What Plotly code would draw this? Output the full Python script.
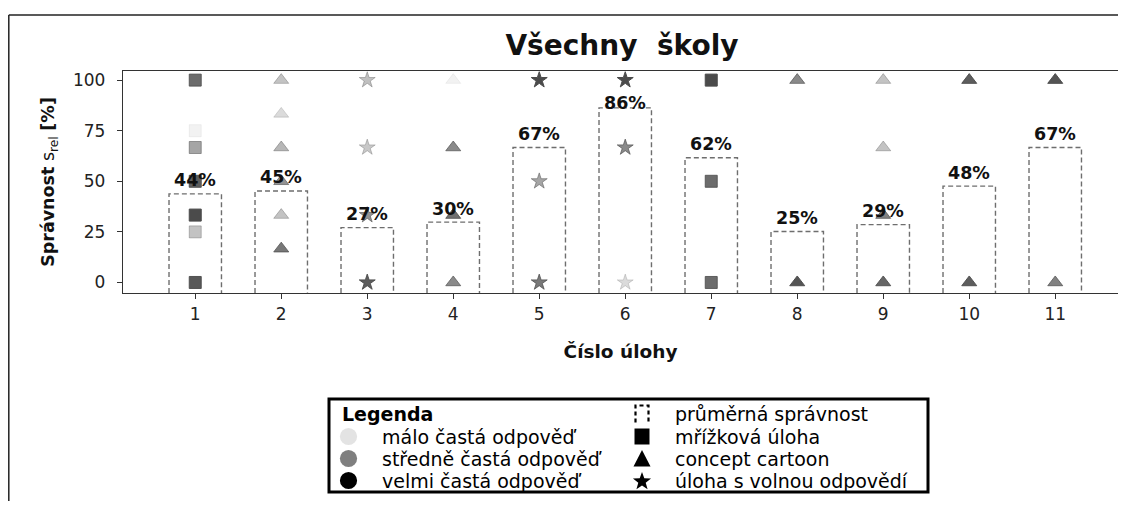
import math
import plotly.graph_objects as go

# ---------------- data ----------------
tasks = [1, 2, 3, 4, 5, 6, 7, 8, 9, 10, 11]
task_type = ["grid", "cartoon", "free", "cartoon", "free", "free",
             "grid", "cartoon", "cartoon", "cartoon", "cartoon"]
mean_correct = [43.8, 45.2, 27.1, 29.8, 66.7, 86.3, 61.6, 25.2, 28.6, 47.6, 66.7]

answer_task = [1, 1, 1, 1, 1, 1, 1,
               2, 2, 2, 2, 2, 2,
               3, 3, 3, 3,
               4, 4, 4, 4,
               5, 5, 5,
               6, 6, 6,
               7, 7, 7,
               8, 8,
               9, 9, 9, 9,
               10, 10,
               11, 11]
answer_value = [100, 75, 66.7, 50, 33.3, 25, 0,
                100, 83.3, 66.7, 50, 33.3, 16.7,
                100, 66.7, 33.3, 0,
                100, 66.7, 33.3, 0,
                100, 50, 0,
                100, 66.7, 0,
                100, 50, 0,
                100, 0,
                100, 66.7, 33.3, 0,
                100, 0,
                100, 0]
answer_freq = [0.82, 0.07, 0.5, 0.9, 1.0, 0.33, 0.93,
               0.33, 0.2, 0.4, 0.6, 0.33, 0.75,
               0.35, 0.3, 0.6, 0.9,
               0.07, 0.65, 0.8, 0.65,
               1.0, 0.5, 0.75,
               1.0, 0.65, 0.2,
               1.0, 0.82, 0.82,
               0.65, 0.95,
               0.33, 0.33, 0.7, 0.85,
               0.9, 0.9,
               0.95, 0.7]

y_ticks = [0, 25, 50, 75, 100]

freq_legend = ["málo častá odpověď", "středně častá odpověď", "velmi častá odpověď"]
type_legend = ["průměrná správnost", "mřížková úloha", "concept cartoon",
               "úloha s volnou odpovědí"]

# ---------------- style ----------------
FONT = "DejaVu Sans"
OFF = 8                       # page body margin in the browser
W, H = 1126 - 2 * OFF, 509 - 2 * OFF
L_S, T_S, B_S = 123, 71, 293  # plot-area edges in screen pixels
ML, MT = L_S - OFF, T_S - OFF
MB = H - (B_S - OFF)
MR = 0
PW, PH = W - ML - MR, H - MT - MB
X_RANGE = [0.16, 0.16 + PW / 86.0]
Y_RANGE = [-5.2, 104.5]
BAR_W = 0.61
LABEL_OFFSET = 6.7
LABEL_CAP = 88.5
symbol_of = {"grid": "square", "cartoon": "triangle-up", "free": "star"}
size_of = {"grid": 12, "cartoon": 13, "free": 12}


def px(x):  # screen x -> paper
    return (x - OFF - ML) / PW


def py(y):  # screen y -> paper
    return (MT + PH - (y - OFF)) / PH


fig = go.Figure()

# mean-correctness bars (dashed outlines)
bx, by = [], []
for t, m in zip(tasks, mean_correct):
    bx += [t - BAR_W / 2, t - BAR_W / 2, t + BAR_W / 2, t + BAR_W / 2, None]
    by += [Y_RANGE[0], m, m, Y_RANGE[0], None]
fig.add_trace(go.Scatter(x=bx, y=by, mode="lines",
                         line=dict(color="#6e6e6e", width=1.4, dash="5px,3px"),
                         hoverinfo="skip", showlegend=False))

# answers
kinds = [task_type[tasks.index(t)] for t in answer_task]
cols = [f"rgba(0,0,0,{a})" for a in answer_freq]
fig.add_trace(go.Scatter(
    x=answer_task, y=answer_value, mode="markers", showlegend=False,
    marker=dict(symbol=[symbol_of[k] for k in kinds],
                size=[size_of[k] for k in kinds],
                color=cols, line=dict(color=cols, width=1))))

annotations = []
for t, m in zip(tasks, mean_correct):
    annotations.append(dict(x=t, y=min(m + LABEL_OFFSET, LABEL_CAP), xref="x", yref="y",
                            text=f"<b>{round(m)}%</b>", showarrow=False,
                            yanchor="middle", xanchor="center",
                            font=dict(family=FONT, size=17.5, color="#111")))

# ---------------- frame + legend (manual) ----------------
shapes = []
# outer figure frame (top and left edges; the rest lies outside the picture)
shapes.append(dict(type="line", xref="paper", yref="paper",
                   x0=px(8.8), x1=px(1200), y0=py(15), y1=py(15),
                   line=dict(color="#222", width=1.5), layer="below"))
shapes.append(dict(type="line", xref="paper", yref="paper",
                   x0=px(8.8), x1=px(8.8), y0=py(15), y1=py(600),
                   line=dict(color="#222", width=1.5), layer="below"))
# legend box
shapes.append(dict(type="rect", xref="paper", yref="paper",
                   x0=px(329), x1=px(928), y0=py(492), y1=py(399),
                   line=dict(color="#000", width=3), fillcolor="white"))


def poly(points):
    return "M " + " L ".join(f"{px(x)},{py(y)}" for x, y in points) + " Z"


row_y = [414, 436.5, 458.5, 480.5]
LX, RX = 348.5, 642
# frequency circles
for c, yy in zip(["#e3e3e3", "#7f7f7f", "#000000"], row_y[1:]):
    r = 8.6
    shapes.append(dict(type="circle", xref="paper", yref="paper",
                       x0=px(LX - r), x1=px(LX + r), y0=py(yy + r), y1=py(yy - r),
                       fillcolor=c, line=dict(width=0)))
# dashed bar symbol
yy = row_y[0]
x0, x1, y0, y1 = px(RX - 6.5), px(RX + 6.5), py(yy + 8.5), py(yy - 8.5)
shapes.append(dict(type="path", xref="paper", yref="paper",
                   path=f"M {x0},{y0} L {x0},{y1} L {x1},{y1} L {x1},{y0}",
                   line=dict(color="#000", width=2.2, dash="4px,3px")))
# square
yy = row_y[1]
shapes.append(dict(type="rect", xref="paper", yref="paper",
                   x0=px(RX - 7.5), x1=px(RX + 7.5), y0=py(yy + 8), y1=py(yy - 8),
                   fillcolor="#000", line=dict(width=0)))
# triangle
yy = row_y[2]
shapes.append(dict(type="path", xref="paper", yref="paper",
                   path=poly([(RX - 8.5, yy + 8), (RX + 8.5, yy + 8), (RX, yy - 8.5)]),
                   fillcolor="#000", line=dict(width=0)))
# star
yy = row_y[3]
pts = []
for k in range(10):
    rad = 9.5 if k % 2 == 0 else 3.9
    ang = -math.pi / 2 + k * math.pi / 5
    pts.append((RX + rad * math.cos(ang), yy + 1 + rad * math.sin(ang)))
shapes.append(dict(type="path", xref="paper", yref="paper", path=poly(pts),
                   fillcolor="#000", line=dict(width=0)))

annotations.append(dict(x=px(340), y=py(row_y[0]), xref="paper", yref="paper",
                        text="<b>Legenda</b>", showarrow=False, xanchor="left",
                        yanchor="middle", font=dict(family=FONT, size=19, color="#000")))
for txt, yy in zip(freq_legend, row_y[1:]):
    annotations.append(dict(x=px(380), y=py(yy), xref="paper", yref="paper",
                            text=txt, showarrow=False, xanchor="left",
                            yanchor="middle", font=dict(family=FONT, size=19, color="#000")))
for txt, yy in zip(type_legend, row_y):
    annotations.append(dict(x=px(673), y=py(yy), xref="paper", yref="paper",
                            text=txt, showarrow=False, xanchor="left",
                            yanchor="middle", font=dict(family=FONT, size=19, color="#000")))

fig.update_layout(
    width=W, height=H, autosize=False,
    margin=dict(l=ML, r=MR, t=MT, b=MB, pad=0),
    paper_bgcolor="white", plot_bgcolor="white",
    font=dict(family=FONT, color="#222"),
    title=dict(text="<b>Všechny\u00a0 školy</b>", x=(622 - OFF) / W, xref="container",
               y=1 - (45 - OFF) / H, yref="container", xanchor="center", yanchor="middle",
               font=dict(family=FONT, size=28, color="#111")),
    xaxis=dict(range=X_RANGE, tickvals=tasks, ticktext=[str(t) for t in tasks],
               showgrid=False, zeroline=False, showline=True, mirror=True,
               linecolor="#333", linewidth=1.3, ticks="outside", ticklen=5,
               tickwidth=1.2, tickcolor="#333",
               tickfont=dict(family=FONT, size=17, color="#222"),
               title=dict(text="<b>Číslo úlohy</b>", standoff=22,
                          font=dict(family=FONT, size=18.5, color="#111")),
               automargin=False),
    yaxis=dict(range=Y_RANGE, tickvals=y_ticks, showgrid=False, zeroline=False,
               showline=True, linecolor="#333", linewidth=1.3, ticks="outside",
               ticklen=5, tickwidth=1.2, tickcolor="#333", ticklabelstandoff=8,
               tickfont=dict(family=FONT, size=17, color="#222"),
               title=dict(text="<b>Správnost</b> s<sub>rel</sub> <b>[%]</b>", standoff=13,
                          font=dict(family=FONT, size=17.5, color="#111")),
               automargin=False),
    shapes=shapes, annotations=annotations, showlegend=False,
)

fig.write_html("out.html")
